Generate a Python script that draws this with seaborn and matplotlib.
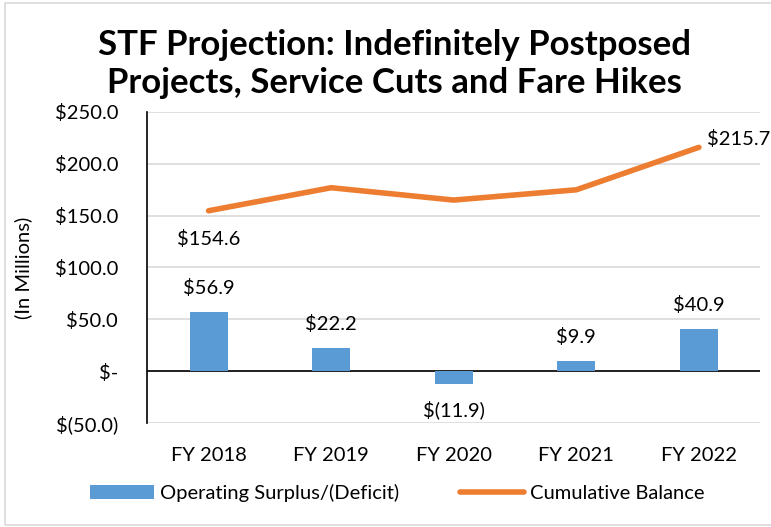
import numpy as np
import pandas as pd
import seaborn as sns
import matplotlib.pyplot as plt
from matplotlib.patches import Patch, Rectangle
from matplotlib.lines import Line2D

years = ['FY 2018', 'FY 2019', 'FY 2020', 'FY 2021', 'FY 2022']
surplus = [56.9, 22.2, -11.9, 9.9, 40.9]
balance = [154.6, 176.8, 164.9, 174.8, 215.7]
yticks = [-50, 0, 50, 100, 150, 200, 250]
ylabels = ['$(50.0)', '$-', '$50.0', '$100.0', '$150.0', '$200.0', '$250.0']

df = pd.DataFrame({'year': years, 'surplus': surplus, 'balance': balance})

sns.set_style('white')
plt.rcParams['font.family'] = ['Lato', 'DejaVu Sans']
plt.rcParams['text.color'] = 'black'
plt.rcParams['axes.labelcolor'] = 'black'

blue = '#5B9BD5'
orange = '#ED7D31'
fs = 14.5

fig = plt.figure(figsize=(7.71, 5.27), dpi=100)
ax = fig.add_axes([0.191, 0.197, 0.795, 0.591])

sns.barplot(data=df, x='year', y='surplus', color=blue, width=0.31,
            saturation=1, linewidth=0, ax=ax, zorder=3)
sns.lineplot(data=df, x='year', y='balance', color=orange, linewidth=4,
             ax=ax, zorder=4)

ax.set_ylim(-50, 250)
ax.set_xlim(-0.5, 4.5)
ax.set_yticks(yticks)
ax.set_yticklabels(ylabels)
ax.yaxis.grid(True, color='#D9D9D9', linewidth=1.2, zorder=0)
ax.axhline(0, color='black', linewidth=1.2, zorder=2)
ax.tick_params(axis='both', labelsize=fs, length=0, colors='black')
ax.tick_params(axis='y', pad=21)
ax.tick_params(axis='x', pad=17)
for s in ['top', 'right', 'bottom']:
    ax.spines[s].set_visible(False)
ax.spines['left'].set_color('black')
ax.spines['left'].set_linewidth(1.2)
ax.set_xlabel('')
ax.set_ylabel('(In Millions)', fontsize=fs, labelpad=16)

# bar labels
for i, v in enumerate(surplus):
    txt = f'${v:.1f}' if v >= 0 else f'$({abs(v):.1f})'
    if v >= 0:
        ax.annotate(txt, (i, v), xytext=(0, 11), textcoords='offset points',
                    ha='center', va='bottom', fontsize=fs)
    else:
        ax.annotate(txt, (i, v), xytext=(0, -12), textcoords='offset points',
                    ha='center', va='top', fontsize=fs)

# line labels (first and last)
ax.annotate(f'${balance[0]:.1f}', (0, balance[0]), xytext=(0, -14),
            textcoords='offset points', ha='center', va='top', fontsize=fs)
ax.annotate(f'${balance[-1]:.1f}', (4, balance[-1]), xytext=(6, 6),
            textcoords='offset points', ha='left', va='center', fontsize=fs,
            annotation_clip=False)

fig.suptitle('STF Projection: Indefinitely Postposed\nProjects, Service Cuts and Fare Hikes',
             x=0.512, y=0.945, fontsize=25, fontweight='bold', linespacing=1.22)

handles = [Patch(facecolor=blue, edgecolor='none'),
           Line2D([0], [0], color=orange, linewidth=4)]
fig.legend(handles, ['Operating Surplus/(Deficit)', 'Cumulative Balance'],
           loc='center', bbox_to_anchor=(0.515, 0.065), ncol=2, frameon=False,
           fontsize=fs, handlelength=3.2, columnspacing=3, handletextpad=0.3)

fig.patches.append(Rectangle((0.007, 0.004), 1.0, 0.99, transform=fig.transFigure,
                             fill=False, edgecolor='#D9D9D9', linewidth=1.2))

fig.savefig('out.png', dpi=100)
